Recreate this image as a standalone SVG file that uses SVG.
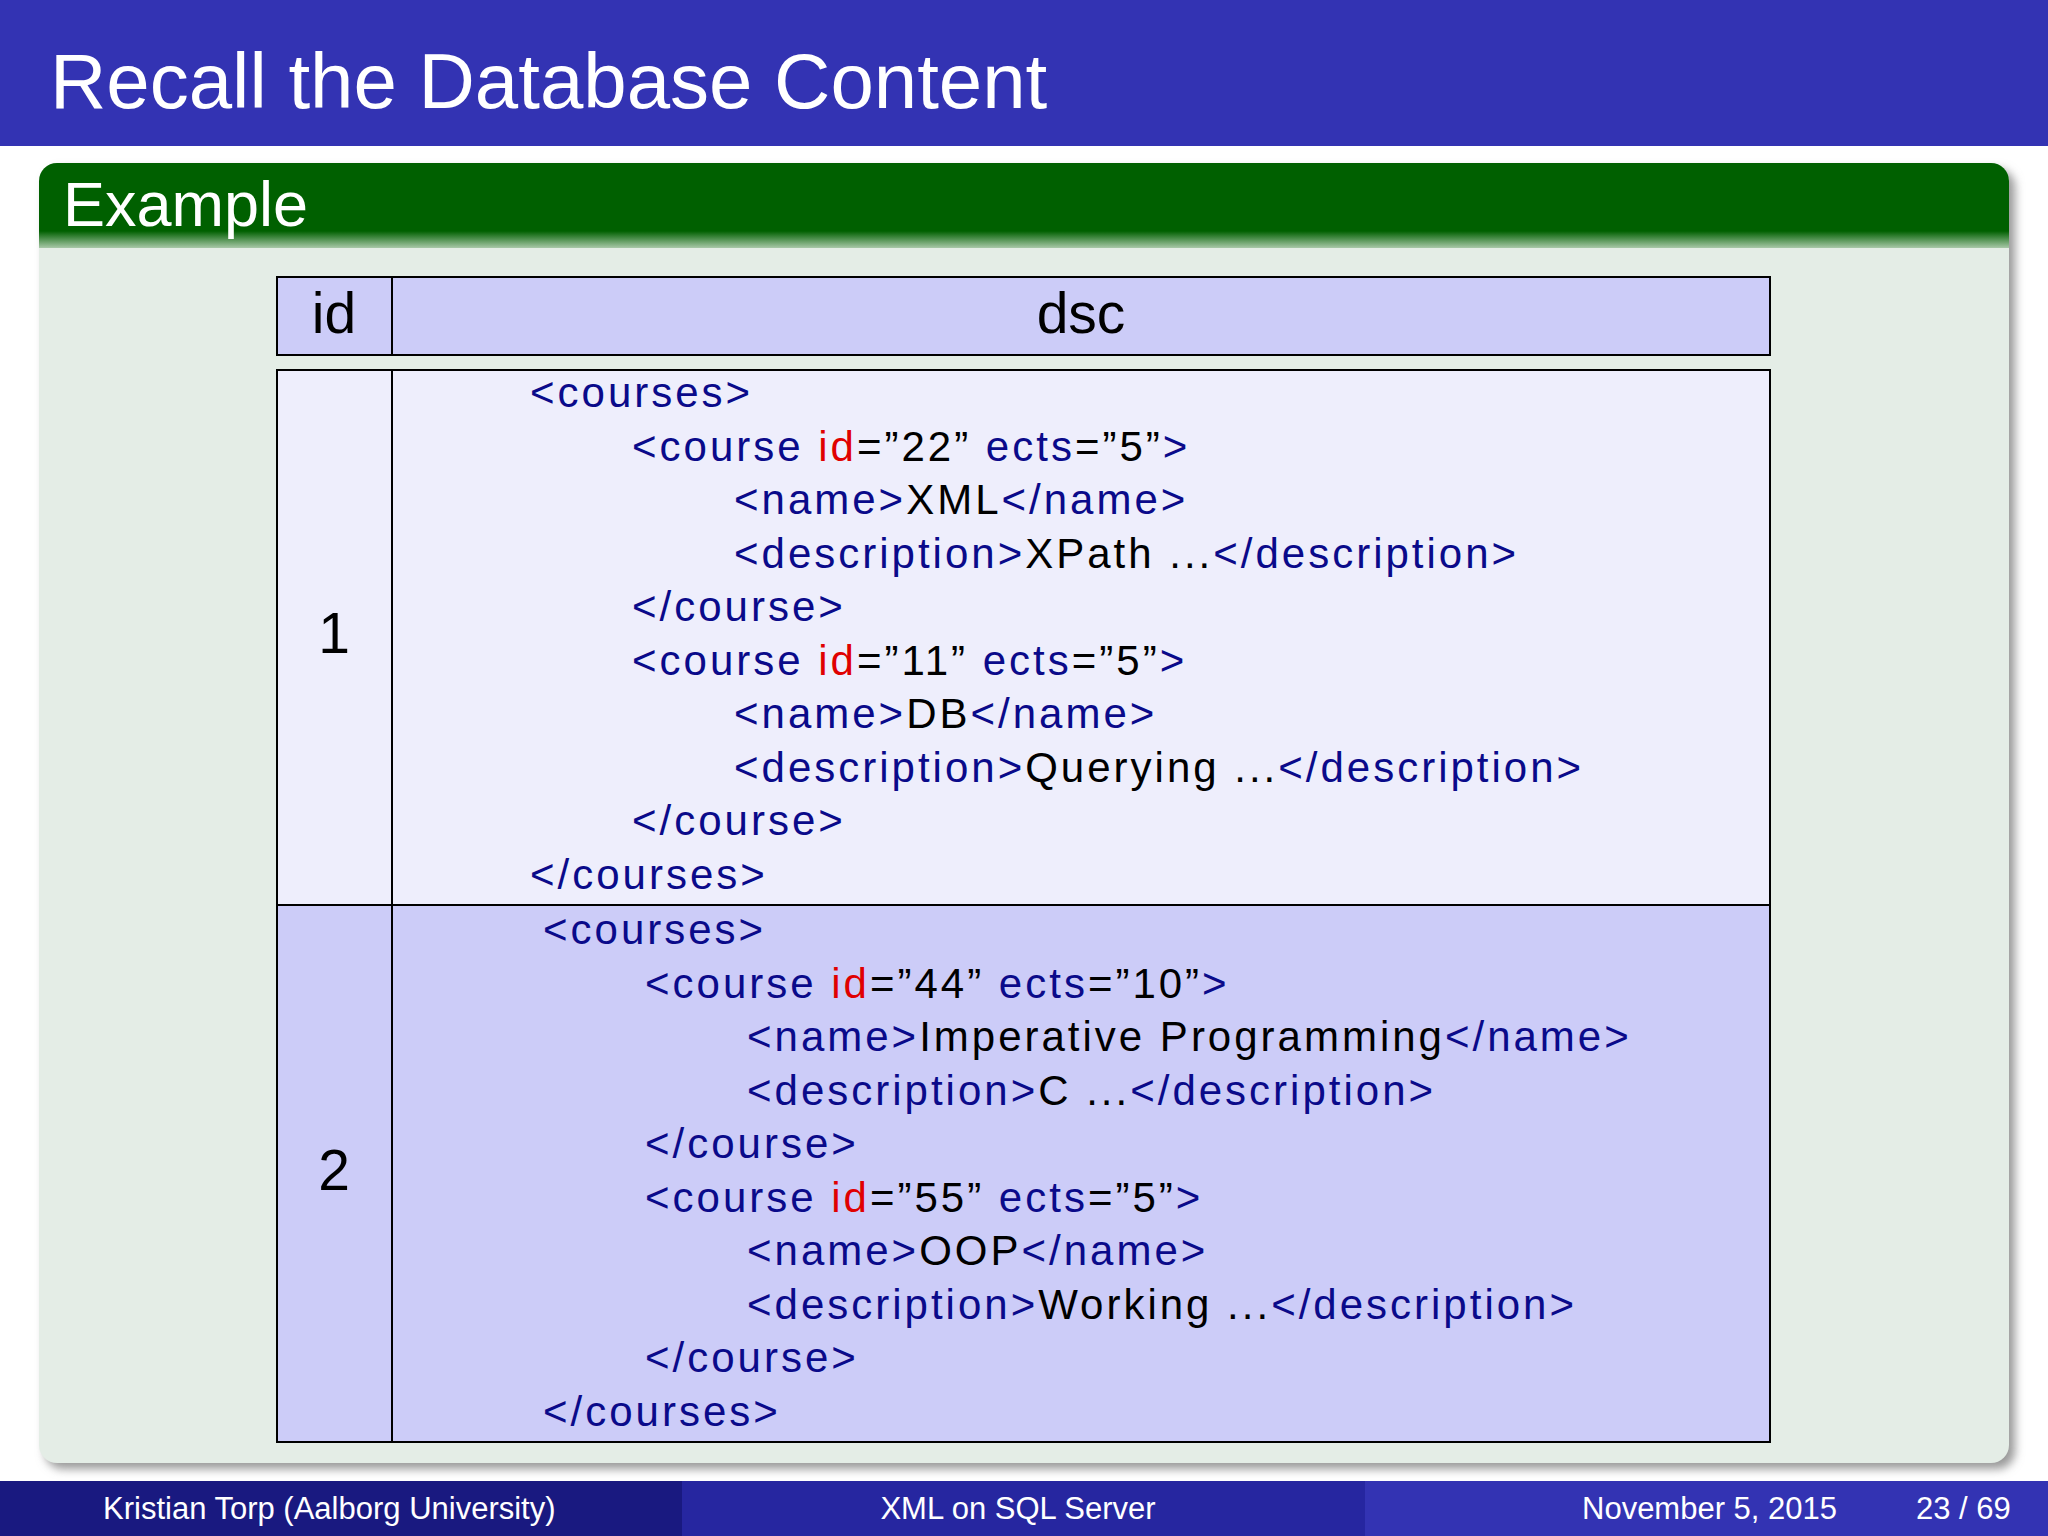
<svg xmlns="http://www.w3.org/2000/svg" width="2048" height="1536" viewBox="0 0 2048 1536">
<defs>
<linearGradient id="hg" x1="0" y1="0" x2="0" y2="1"><stop offset="0.8" stop-color="#006000"/><stop offset="1" stop-color="#a8c8a8"/></linearGradient>
<filter id="sh" x="-5%" y="-5%" width="110%" height="110%"><feGaussianBlur stdDeviation="5"/></filter>
</defs>
<style>
.w{fill:#fff;font-family:"Liberation Sans",Arial,sans-serif}
.c{font-family:"Liberation Sans",Arial,sans-serif;font-size:42px;letter-spacing:3px;fill:#000}
.t{fill:#0a0a8a}.r{fill:#e00000}
.big{font-family:"Liberation Sans",Arial,sans-serif;font-size:57px;fill:#000;text-anchor:middle}
.cell{stroke:#000;stroke-width:2}
</style>
<rect width="2048" height="1536" fill="#fff"/>
<g id="title"><rect x="0" y="0" width="2048" height="146" fill="#3333b3"/>
<text class="w" x="50" y="108" font-size="78">Recall the Database Content</text></g>
<g id="block">
<rect x="45" y="169" width="1970" height="1300" rx="18" fill="#999" filter="url(#sh)"/>
<rect x="39" y="163" width="1970" height="1300" rx="18" fill="#e4ede6"/>
<path d="M39 248 V181 a18 18 0 0 1 18 -18 H1991 a18 18 0 0 1 18 18 V248 Z" fill="url(#hg)"/>
<text class="w" x="63" y="226" font-size="63">Example</text>
</g>
<g id="table">
<rect class="cell" x="277" y="277" width="115" height="78" fill="#ccccf8"/>
<rect class="cell" x="392" y="277" width="1378" height="78" fill="#ccccf8"/>
<text class="big" x="334" y="333">id</text><text class="big" x="1081" y="333">dsc</text>
<rect class="cell" x="277" y="370" width="115" height="535" fill="#eeeefc"/>
<rect class="cell" x="392" y="370" width="1378" height="535" fill="#eeeefc"/>
<rect class="cell" x="277" y="905" width="115" height="537" fill="#ccccf8"/>
<rect class="cell" x="392" y="905" width="1378" height="537" fill="#ccccf8"/>
<text class="big" x="334" y="653">1</text><text class="big" x="334" y="1190">2</text>
</g>
<g id="code1">
<text class="c t" x="530" y="407">&lt;courses&gt;</text>
<text class="c" x="632" y="461"><tspan class="t">&lt;course </tspan><tspan class="r">id</tspan>=”22” <tspan class="t">ects</tspan>=”5”<tspan class="t">&gt;</tspan></text>
<text class="c" x="734" y="514" letter-spacing="-1"><tspan class="t">&lt;name&gt;</tspan>XML<tspan class="t">&lt;/name&gt;</tspan></text>
<text class="c" x="734" y="568"><tspan class="t">&lt;description&gt;</tspan>XPath ...<tspan class="t">&lt;/description&gt;</tspan></text>
<text class="c t" x="632" y="621">&lt;/course&gt;</text>
<text class="c" x="632" y="675"><tspan class="t">&lt;course </tspan><tspan class="r">id</tspan>=”11” <tspan class="t">ects</tspan>=”5”<tspan class="t">&gt;</tspan></text>
<text class="c" x="734" y="728" letter-spacing="-1"><tspan class="t">&lt;name&gt;</tspan>DB<tspan class="t">&lt;/name&gt;</tspan></text>
<text class="c" x="734" y="782"><tspan class="t">&lt;description&gt;</tspan>Querying ...<tspan class="t">&lt;/description&gt;</tspan></text>
<text class="c t" x="632" y="835">&lt;/course&gt;</text>
<text class="c t" x="530" y="889">&lt;/courses&gt;</text>
</g>
<g id="code2">
<text class="c t" x="543" y="944">&lt;courses&gt;</text>
<text class="c" x="645" y="998"><tspan class="t">&lt;course </tspan><tspan class="r">id</tspan>=”44” <tspan class="t">ects</tspan>=”10”<tspan class="t">&gt;</tspan></text>
<text class="c" x="747" y="1051"><tspan class="t">&lt;name&gt;</tspan>Imperative Programming<tspan class="t">&lt;/name&gt;</tspan></text>
<text class="c" x="747" y="1105"><tspan class="t">&lt;description&gt;</tspan>C ...<tspan class="t">&lt;/description&gt;</tspan></text>
<text class="c t" x="645" y="1158">&lt;/course&gt;</text>
<text class="c" x="645" y="1212"><tspan class="t">&lt;course </tspan><tspan class="r">id</tspan>=”55” <tspan class="t">ects</tspan>=”5”<tspan class="t">&gt;</tspan></text>
<text class="c" x="747" y="1265" letter-spacing="-1"><tspan class="t">&lt;name&gt;</tspan>OOP<tspan class="t">&lt;/name&gt;</tspan></text>
<text class="c" x="747" y="1319"><tspan class="t">&lt;description&gt;</tspan>Working ...<tspan class="t">&lt;/description&gt;</tspan></text>
<text class="c t" x="645" y="1372">&lt;/course&gt;</text>
<text class="c t" x="543" y="1426">&lt;/courses&gt;</text>
</g>
<g id="footer">
<rect x="0" y="1481" width="682" height="55" fill="#191980"/>
<rect x="682" y="1481" width="683" height="55" fill="#2626a0"/>
<rect x="1365" y="1481" width="683" height="55" fill="#3333b3"/>
<text class="w" x="103" y="1519" font-size="31">Kristian Torp  (Aalborg University)</text>
<text class="w" x="1018" y="1519" font-size="31" text-anchor="middle">XML on SQL Server</text>
<text class="w" x="1582" y="1519" font-size="31">November 5, 2015</text>
<text class="w" x="1916" y="1519" font-size="31">23 / 69</text>
</g>
</svg>
